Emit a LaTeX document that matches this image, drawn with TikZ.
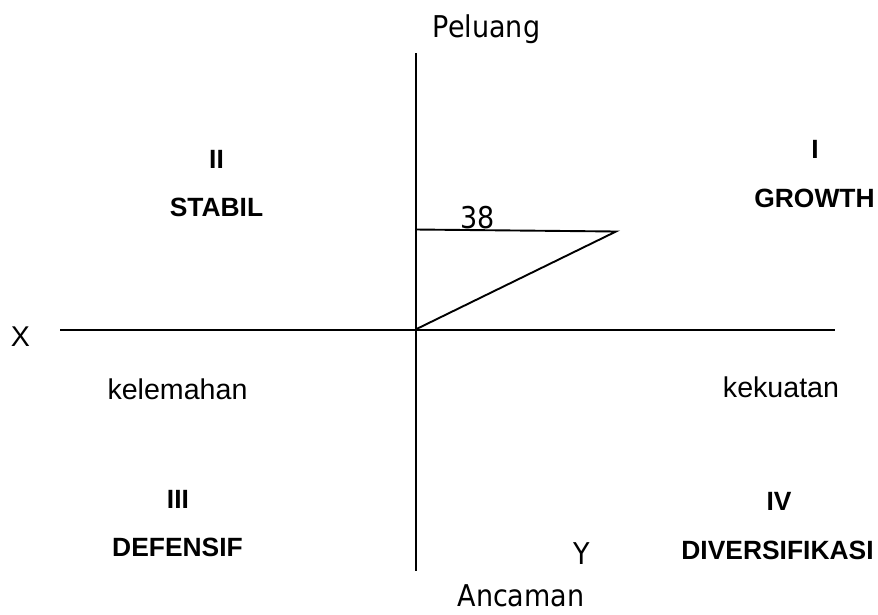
\documentclass[tikz,border=0pt]{standalone}
\usepackage{fontspec}
\setmainfont{Liberation Sans}
\newfontfamily\tah[FakeStretch=0.9]{DejaVu Sans}
\begin{document}
\begin{tikzpicture}[x=1pt,y=-1pt,
  axis/.style={line width=2pt,black},
  tri/.style={line width=1.9pt,black},
  reg/.style={inner sep=0pt,anchor=base,font=\fontsize{28.6}{30}\selectfont},
  bld/.style={inner sep=0pt,anchor=base,font=\fontsize{26.4}{28}\selectfont\bfseries},
  tahl/.style={inner sep=0pt,anchor=base,font=\fontsize{30}{32}\selectfont\tah}]
\useasboundingbox (0,0) rectangle (878,614);
% axes
\coordinate (vtop) at (415.5,53);
\coordinate (vbot) at (415.5,571);
\coordinate (hl) at (60,329.5);
\coordinate (hr) at (835,329.5);
\coordinate (o) at (415.5,329.5);
\coordinate (ta) at (415.5,229.5);
\coordinate (tb) at (616,231.5);
\draw[axis] (vtop) -- (vbot);
\draw[axis] (hl) -- (hr);
\draw[tri] (ta) -- (tb) -- (o);
% labels
\node[tahl] (pel) at (486.5,37) {Peluang};
\node[tahl] (anc) at (521,606) {Ancaman};
\node[tahl] (n38) at (477.5,228) {38};
\node[tahl] (y) at (582,564) {Y};
\node[reg] (x) at (20.5,346) {X};
\node[reg] (kel) at (177.5,399) {kelemahan};
\node[reg] (kek) at (781,397) {kekuatan};
\node[bld] (q2) at (216.5,168) {II};
\node[bld] (stabil) at (216.5,216) {STABIL};
\node[bld] (q1) at (815,158) {I};
\node[bld] (growth) at (814.5,207) {GROWTH};
\node[bld] (q3) at (178,508) {III};
\node[bld] (def) at (177.5,556) {DEFENSIF};
\node[bld] (q4) at (779,510) {IV};
\node[bld] (div) at (777.5,559) {DIVERSIFIKASI};
\end{tikzpicture}
\end{document}
